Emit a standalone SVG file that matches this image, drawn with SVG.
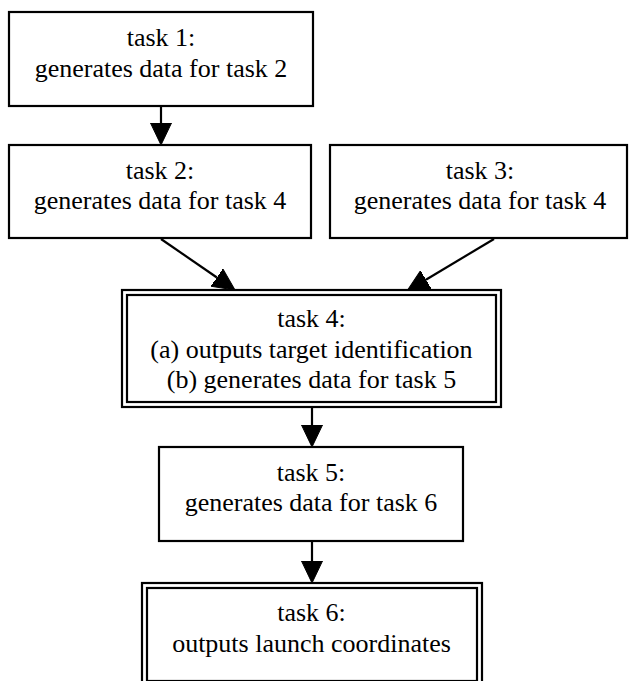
<svg xmlns="http://www.w3.org/2000/svg" width="629" height="681" viewBox="0 0 629 681">
<defs>
<style>
.box{fill:#fff;stroke:#000;stroke-width:2.2}
.inner{fill:none;stroke:#000;stroke-width:2.2}
.lbl{font-family:"Liberation Serif","Times New Roman",serif;font-size:26px;fill:#000;text-anchor:middle}
.edge{fill:none;stroke:#000;stroke-width:2.2;marker-end:url(#arr)}
</style>
<marker id="arr" markerUnits="userSpaceOnUse" viewBox="0 -11 23 22" markerWidth="23" markerHeight="22" refX="0" refY="0" orient="auto">
<path d="M0,-10.5 L22,0 L0,10.5 Z" fill="#000" stroke="#000" stroke-width="1"/>
</marker>
</defs>
<rect width="629" height="681" fill="#fff"/>
<g id="connectors">
<line class="edge" x1="161" y1="106" x2="161" y2="123"/>
<line class="edge" x1="161" y1="239" x2="216.9" y2="277.5"/>
<line class="edge" x1="494" y1="239" x2="425.9" y2="279.7"/>
<line class="edge" x1="312" y1="407" x2="312" y2="425"/>
<line class="edge" x1="312" y1="541" x2="312" y2="561"/>
</g>
<g id="task1">
<rect class="box" x="9" y="12" width="304" height="94"/>
<text class="lbl" x="161" y="46">task 1:</text>
<text class="lbl" x="161" y="76.5">generates data for task 2</text>
</g>
<g id="task2">
<rect class="box" x="9" y="145" width="302" height="93"/>
<text class="lbl" x="160" y="178.5">task 2:</text>
<text class="lbl" x="160" y="209">generates data for task 4</text>
</g>
<g id="task3">
<rect class="box" x="330" y="145" width="297" height="93"/>
<text class="lbl" x="480" y="178.5">task 3:</text>
<text class="lbl" x="480" y="209">generates data for task 4</text>
</g>
<g id="task4">
<rect class="box" x="122" y="290" width="379" height="117"/>
<rect class="inner" x="127" y="295" width="369" height="107"/>
<text class="lbl" x="311.5" y="327">task 4:</text>
<text class="lbl" x="311.5" y="357.5">(a) outputs target identification</text>
<text class="lbl" x="311.5" y="388">(b) generates data for task 5</text>
</g>
<g id="task5">
<rect class="box" x="159" y="447" width="304" height="94"/>
<text class="lbl" x="311" y="480.5">task 5:</text>
<text class="lbl" x="311" y="511">generates data for task 6</text>
</g>
<g id="task6">
<rect class="box" x="142" y="583" width="340" height="103"/>
<rect class="inner" x="147" y="588" width="330" height="93"/>
<text class="lbl" x="311.5" y="621">task 6:</text>
<text class="lbl" x="311.5" y="651.5">outputs launch coordinates</text>
</g>
</svg>
